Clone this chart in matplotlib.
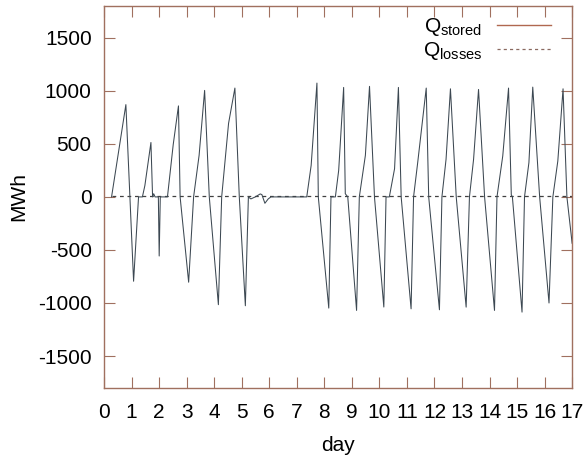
import matplotlib
matplotlib.use("Agg")
import matplotlib.pyplot as plt
from matplotlib.lines import Line2D

plt.rcParams['font.family'] = ['Liberation Sans', 'DejaVu Sans']
plt.rcParams['mathtext.fontset'] = 'custom'
plt.rcParams['mathtext.rm'] = 'Liberation Sans'
plt.rcParams['mathtext.it'] = 'Liberation Sans'
plt.rcParams['axes.unicode_minus'] = False

# Data
t_stored = [0.27, 0.79, 1.07, 1.25, 1.39, 1.48, 1.70, 1.76, 1.80, 1.85, 1.97, 2.00, 2.04,
            2.30, 2.51, 2.70, 2.76, 3.07, 3.25, 3.45, 3.65, 3.82, 4.15, 4.27, 4.52, 4.75,
            4.91, 5.13, 5.24, 5.33, 5.49, 5.67, 5.73, 5.84, 5.96, 6.06, 7.36, 7.52, 7.73,
            7.78, 8.16, 8.24, 8.40, 8.52, 8.70, 8.76, 8.85, 9.17, 9.27, 9.49, 9.64, 9.82,
            10.16, 10.24, 10.36, 10.55, 10.69, 10.79, 11.15, 11.24, 11.39, 11.70, 11.79,
            12.18, 12.27, 12.42, 12.58, 12.79, 13.15, 13.27, 13.42, 13.60, 13.82, 14.18,
            14.27, 14.48, 14.69, 14.79, 14.83, 15.18, 15.27, 15.43, 15.57, 15.82, 16.16,
            16.30, 16.48, 16.67, 16.81, 17.0]
q_stored = [0, 870, -795, 0, 0, 107, 513, 0, 30, 0, 0, -557, 0,
            0, 494, 858, 0, -804, 0, 392, 1004, 0, -1016, 0, 693, 1026,
            0, -1026, 0, -19, 0, 28, 22, -60, -19, 0, 0, 297, 1073,
            0, -1048, 0, 0, 250, 1032, 30, 0, -1070, 0, 392, 1042, 0,
            -1038, 0, 0, 266, 1032, 0, -1055, 0, 323, 1026, 0,
            -1064, 0, 354, 1019, 0, -1039, 0, 354, 1013, 0, -1070,
            0, 386, 1026, 20, 0, -1086, 0, 323, 1035, 0, -1000,
            0, 338, 1019, 0, -437]
t_losses = [0.27, 5.0, 10.0, 17.0]
q_losses = [5, 5, 5, 5]

x_ticks = list(range(0, 18))
y_ticks = [-1500, -1000, -500, 0, 500, 1000, 1500]

frame_col = '#a0705f'
fs = 15

fig = plt.figure(figsize=(5.85, 4.59), dpi=100)
ax = fig.add_axes([0.178, 0.155, 0.8, 0.832])

ax.plot(t_stored, q_stored, color='#3c4852', lw=0.75, zorder=3)
ax.plot(t_losses, q_losses, color='#404040', lw=0.9, ls=(0, (3, 3)), zorder=2)

ax.set_xlim(0, 17)
ax.set_ylim(-1800, 1800)
ax.set_xticks(x_ticks)
ax.set_yticks(y_ticks)
ax.tick_params(direction='in', length=8, width=0.8, color=frame_col,
               top=True, right=True, labelsize=fs)
ax.tick_params(axis='x', pad=11)
ax.tick_params(axis='y', pad=9)
for s in ax.spines.values():
    s.set_color(frame_col)
    s.set_linewidth(1.0)

ax.set_xlabel('day', fontsize=fs, labelpad=10)
ax.set_ylabel('MWh', fontsize=fs, labelpad=7)

handles = [Line2D([], [], color='#b06850', lw=1.0),
           Line2D([], [], color='#8a6a60', lw=0.9, ls=(0, (2.5, 2.5)))]
labels = [r'Q$_{\mathrm{stored}}$', r'Q$_{\mathrm{losses}}$']
ax.legend(handles, labels, loc='upper right', bbox_to_anchor=(0.978, 1.0),
          frameon=False, markerfirst=False,
          fontsize=fs, handlelength=2.6, handletextpad=0.7, labelspacing=0.1,
          borderaxespad=0.2, borderpad=0.3)

fig.savefig('out.png', dpi=100)
